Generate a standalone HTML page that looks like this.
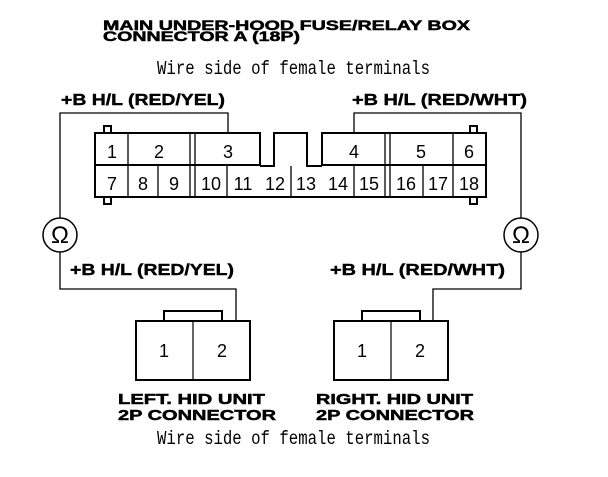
<!DOCTYPE html>
<html><head><style>html,body{margin:0;padding:0;background:#fff}</style></head><body>
<svg width="608" height="472" viewBox="0 0 608 472" xmlns="http://www.w3.org/2000/svg">
<g font-family="Liberation Sans, sans-serif" font-weight="bold" font-size="14" fill="#000" stroke="#000" stroke-width="0.5">
<text x="103" y="30" textLength="367" lengthAdjust="spacingAndGlyphs">MAIN UNDER-HOOD FUSE/RELAY BOX</text>
<text x="103" y="41" textLength="197" lengthAdjust="spacingAndGlyphs">CONNECTOR A (18P)</text>
</g>
<g font-family="Liberation Sans, sans-serif" font-weight="bold" font-size="16" fill="#000" stroke="#000" stroke-width="0.4">
<text x="61" y="105" textLength="164" lengthAdjust="spacingAndGlyphs">+B H/L (RED/YEL)</text>
<text x="352" y="105" textLength="175" lengthAdjust="spacingAndGlyphs">+B H/L (RED/WHT)</text>
<text x="70" y="275" textLength="164" lengthAdjust="spacingAndGlyphs">+B H/L (RED/YEL)</text>
<text x="330" y="275" textLength="175" lengthAdjust="spacingAndGlyphs">+B H/L (RED/WHT)</text>
</g>
<g font-family="Liberation Sans, sans-serif" font-weight="bold" font-size="15" fill="#000" stroke="#000" stroke-width="0.5">
<text x="118" y="404" textLength="147" lengthAdjust="spacingAndGlyphs">LEFT. HID UNIT</text>
<text x="118" y="420" textLength="158" lengthAdjust="spacingAndGlyphs">2P CONNECTOR</text>
<text x="316" y="404" textLength="157" lengthAdjust="spacingAndGlyphs">RIGHT. HID UNIT</text>
<text x="316" y="420" textLength="158" lengthAdjust="spacingAndGlyphs">2P CONNECTOR</text>
</g>
<g font-family="Liberation Mono, monospace" font-size="19" fill="#000">
<text x="157" y="74" textLength="273" lengthAdjust="spacingAndGlyphs">Wire side of female terminals</text>
<text x="157" y="444" textLength="273" lengthAdjust="spacingAndGlyphs">Wire side of female terminals</text>
</g>
<g fill="none" stroke="#000">
<polyline points="228,133 228,113 60,113 60,218" stroke-width="1.3"/>
<polyline points="354,133 354,113 521,113 521,218" stroke-width="1.3"/>
<polyline points="60,252 60,289 236,289 236,321" stroke-width="1.3"/>
<polyline points="521,252 521,289 433,289 433,321" stroke-width="1.3"/>
<circle cx="60" cy="235" r="17" stroke-width="1.5"/>
<circle cx="521" cy="235" r="17" stroke-width="1.5"/>
<g stroke-width="2">
<polyline points="260,166 260,133 95,133 95,197 486,197 486,133 322,133 322,166"/>
<polyline points="260,166 274,166 274,133 307,133 307,166 322,166"/>
<line x1="95" y1="165" x2="260" y2="165"/>
<line x1="322" y1="165" x2="486" y2="165"/>
<rect x="104" y="126" width="7" height="7"/>
<rect x="104" y="197" width="7" height="7"/>
<rect x="470" y="126" width="7" height="7"/>
<rect x="470" y="197" width="7" height="7"/>
</g>
<g stroke-width="1.3">
<line x1="128" y1="133" x2="128" y2="197"/>
<line x1="190" y1="133" x2="190" y2="197"/>
<line x1="195" y1="133" x2="195" y2="197"/>
<line x1="385" y1="133" x2="385" y2="197"/>
<line x1="390" y1="133" x2="390" y2="197"/>
<line x1="453" y1="133" x2="453" y2="197"/>
<line x1="158" y1="165" x2="158" y2="197"/>
<line x1="227" y1="165" x2="227" y2="197"/>
<line x1="291" y1="166" x2="291" y2="197"/>
<line x1="354" y1="165" x2="354" y2="197"/>
<line x1="423" y1="165" x2="423" y2="197"/>
</g>
<g stroke-width="2">
<rect x="136" y="321" width="114" height="59"/>
<polyline points="164,321 164,311 222,311 222,321"/>
<rect x="334" y="321" width="114" height="59"/>
<polyline points="362,321 362,311 420,311 420,321"/>
</g>
<line x1="193" y1="321" x2="193" y2="380" stroke-width="1.2"/>
<line x1="391" y1="321" x2="391" y2="380" stroke-width="1.2"/>
</g>
<g font-family="Liberation Sans, sans-serif" font-size="18" fill="#000" text-anchor="middle">
<text x="60" y="243" font-size="24">Ω</text>
<text x="521" y="243" font-size="24">Ω</text>
<text x="112" y="158">1</text><text x="159" y="158">2</text><text x="228" y="158">3</text>
<text x="354" y="158">4</text><text x="421" y="158">5</text><text x="469" y="158">6</text>
<text x="112" y="190">7</text><text x="143" y="190">8</text><text x="174" y="190">9</text>
<text x="211" y="190">10</text><text x="243" y="190">11</text><text x="275" y="190">12</text>
<text x="306" y="190">13</text><text x="338" y="190">14</text><text x="369" y="190">15</text>
<text x="406" y="190">16</text><text x="438" y="190">17</text><text x="469" y="190">18</text>
<text x="164" y="357">1</text><text x="222" y="357">2</text>
<text x="362" y="357">1</text><text x="420" y="357">2</text>
</g>
</svg>
</body></html>
